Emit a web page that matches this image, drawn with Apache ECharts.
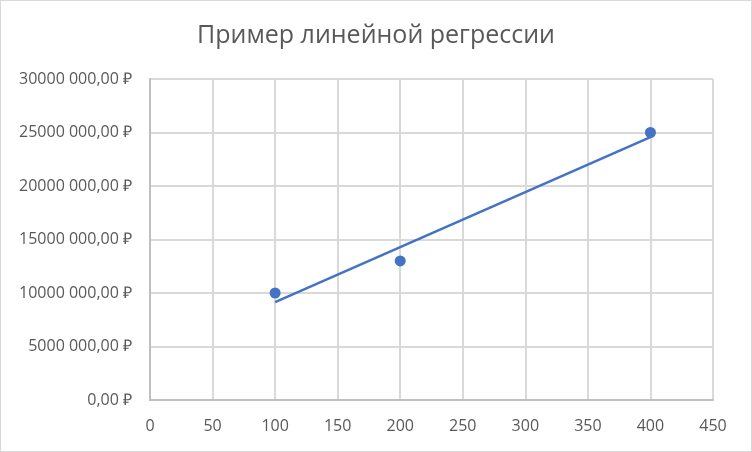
<!DOCTYPE html>
<html>
<head>
<meta charset="utf-8">
<script src="https://cdn.jsdelivr.net/npm/echarts@6/dist/echarts.min.js"></script>
<style>
  html, body { margin: 0; padding: 0; background: #fff; }
  #chart { width: 750px; height: 450px; border: 1px solid #d9d9d9; }
</style>
</head>
<body>
<div id="chart"></div>
<script>
// точки данных (объём, сумма в рублях)
const xValues = [100, 200, 400];
const yValues = [10000000, 13000000, 25000000];
// концы линии тренда
const trendX = [100, 400];
const trendY = [9140000, 24570000];

const titleText = 'Пример линейной регрессии';

// формат как в Excel: "25000 000,00 ₽"
function rub(v) {
    if (v === 0) return '0,00 ₽';
    const thousands = Math.floor(v / 1000);
    const rest = String(v % 1000).padStart(3, '0');
    return thousands + ' ' + rest + ',00 ₽';
}

const chart = echarts.init(document.getElementById('chart'));
const font = 'Open Sans, Liberation Sans, sans-serif';

const option = {
    animation: false,
    title: {
        text: titleText,
        left: 'center',
        top: 17,
        textStyle: { color: '#595959', fontSize: 25, fontWeight: 'normal', fontFamily: font }
    },
    grid: { left: 149, right: 38, top: 78, bottom: 51 },
    xAxis: {
        type: 'value',
        min: 0, max: 450, interval: 50,
        axisLine: { show: true, lineStyle: { color: '#bfbfbf', width: 2 } },
        axisTick: { show: false },
        splitLine: { show: true, lineStyle: { color: '#d9d9d9', width: 2 } },
        axisLabel: { color: '#595959', fontSize: 16, fontFamily: font, margin: 18 }
    },
    yAxis: {
        type: 'value',
        min: 0, max: 30000000, interval: 5000000,
        axisLine: { show: true, lineStyle: { color: '#bfbfbf', width: 2 } },
        axisTick: { show: false },
        splitLine: { show: true, lineStyle: { color: '#d9d9d9', width: 2 } },
        axisLabel: { color: '#595959', fontSize: 16, fontFamily: font, margin: 18, formatter: rub }
    },
    series: [
        {
            type: 'line',
            data: trendX.map((x, i) => [x, trendY[i]]),
            showSymbol: false,
            lineStyle: { color: '#4472C4', width: 2.5 },
            z: 2
        },
        {
            type: 'scatter',
            data: xValues.map((x, i) => [x, yValues[i]]),
            symbolSize: 11,
            itemStyle: { color: '#4472C4', opacity: 1 },
            z: 3
        }
    ]
};
option && chart.setOption(option);
</script>
</body>
</html>
